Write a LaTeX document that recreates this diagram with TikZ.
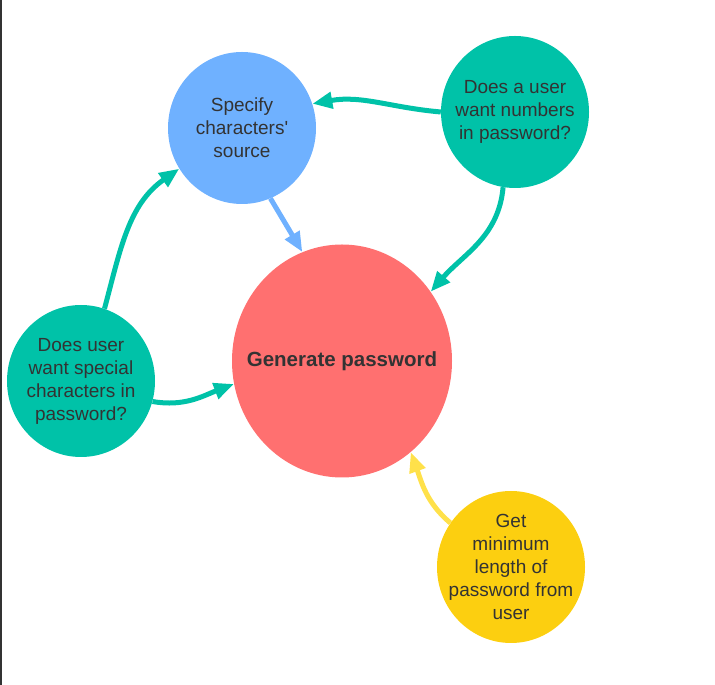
\documentclass[tikz,border=0pt]{standalone}
\usepackage{fontspec}
\setmainfont{Liberation Sans}
\usetikzlibrary{arrows.meta,shapes.geometric}

\definecolor{tealc}{HTML}{00C2A8}
\definecolor{bluec}{HTML}{6FB1FF}
\definecolor{redc}{HTML}{FF7070}
\definecolor{yellowc}{HTML}{FCCF10}
\definecolor{yellowarr}{HTML}{FFE14A}
\definecolor{txtgray}{HTML}{333333}

\begin{document}
\begin{tikzpicture}[x=1pt,y=1pt,>={Triangle[length=20pt,width=16pt]},
		bubble/.style={ellipse,inner sep=0pt,minimum width=148pt,minimum height=152pt},
		bubtext/.style={align=center,text=txtgray,font=\fontsize{19}{23}\selectfont},
		flow/.style={->,line width=5pt}]
		\useasboundingbox (0,0) rectangle (715,685);
		\draw[line width=1.5pt,draw=txtgray] (0.75,0) -- (0.75,685);
		\node[bubble,fill=bluec,label={[bubtext]center:Specify\\characters\textquotesingle\\source}] (spec) at (242,557) {};
		\node[bubble,fill=tealc,label={[bubtext]center:Does a user\\want numbers\\in password?}] (num) at (515,573) {};
		\node[bubble,fill=tealc,label={[bubtext]center:Does user\\want special\\characters in\\password?}] (special) at (81,304) {};
		\node[bubble,fill=yellowc,label={[bubtext]center:Get\\minimum\\length of\\password from\\user}] (len) at (511,118) {};
		\node[bubble,minimum width=220pt,minimum height=233pt,fill=redc,
			label={[text=txtgray,font=\fontsize{20.5}{24}\selectfont\bfseries]center:Generate password}] (gen) at (342,324) {};
		\path[flow]
			(num.180) edge [draw=tealc,out=175,in=10] (spec.19)
			(num.261) edge [draw=tealc,out=265,in=49] (gen.38)
			(spec.-68) edge [draw=bluec] (gen.110)
			(special.72) edge [draw=tealc,out=75,in=215] (spec.213)
			(special.-16) edge [draw=tealc,out=-10,in=201] (gen.192)
			(len.144) edge [draw=yellowarr,out=140,in=290] (gen.-53);
	\end{tikzpicture}
\end{document}
